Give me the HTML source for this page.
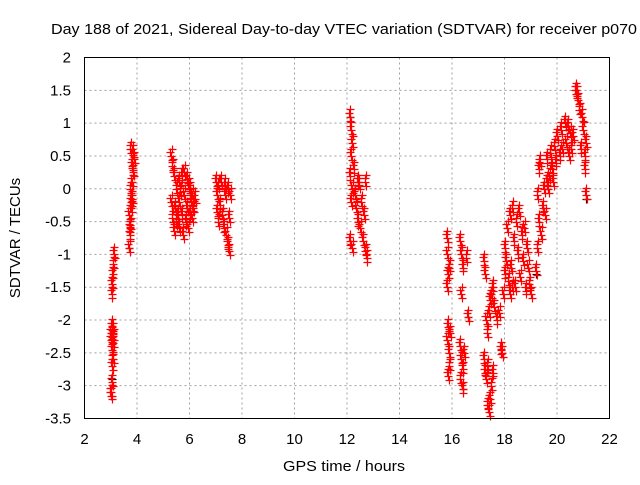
<!DOCTYPE html>
<html><head><meta charset="utf-8"><style>
body{margin:0;background:#fff}
svg text{font-family:"Liberation Sans",sans-serif;font-size:15px;fill:#000}
</style></head><body>
<svg id="chart" width="640" height="480">
<text x="344" y="34" text-anchor="middle" textLength="586" lengthAdjust="spacingAndGlyphs" style="font-size:14.5px">Day 188 of 2021, Sidereal Day-to-day VTEC variation (SDTVAR) for receiver p070</text>
<text x="344" y="471" text-anchor="middle" textLength="122" lengthAdjust="spacingAndGlyphs">GPS time / hours</text>
<text transform="translate(20,238) rotate(-90)" text-anchor="middle">SDTVAR / TECUs</text>
<g id="grid"></g><g id="ticks"></g><g id="marks"></g>
<rect x="84.5" y="57.5" width="525" height="361" fill="none" stroke="#000"/>
</svg>
<script>
const xTicks=[2,4,6,8,10,12,14,16,18,20,22];
const yTicks=[2,1.5,1,0.5,0,-0.5,-1,-1.5,-2,-2.5,-3,-3.5];
const redT=[3.0,3.02,3.05,3.05,3.08,3.05,3.0,3.02,3.06,3.1,3.04,3.08,3.03,3.05,3.07,3.1,3.12,
3.7,3.72,3.75,3.7,3.78,3.8,3.75,3.82,3.85,3.8,3.88,3.75,3.85,3.78,3.72,
5.3,5.35,5.4,5.3,5.35,5.4,5.5,5.5,5.45,5.6,5.6,5.6,5.7,5.7,5.75,5.8,5.8,5.85,5.9,5.9,5.95,6.0,6.0,6.05,6.1,6.1,6.15,6.2,5.55,5.65,5.95,
7.0,7.05,7.1,7.05,7.1,7.15,7.2,7.25,7.3,7.35,7.4,7.45,7.5,7.5,7.45,7.55,7.35,
12.1,12.15,12.2,12.15,12.1,12.2,12.15,12.1,12.2,12.3,12.35,12.4,12.45,12.5,12.55,12.6,12.65,12.7,12.7,12.75,12.25,12.4,
15.8,15.82,15.85,15.8,15.85,15.82,15.88,15.9,15.85,15.9,15.92,
16.3,16.35,16.4,16.35,16.3,16.35,16.4,16.32,16.4,16.45,16.6,16.55,
17.2,17.25,17.2,17.25,17.3,17.35,17.4,17.45,17.5,17.55,17.35,17.3,17.35,17.4,17.45,17.5,17.55,17.6,
17.7,17.8,17.85,17.9,17.95,18.0,
18.0,18.05,18.1,18.15,18.2,18.25,18.3,18.35,18.4,18.45,18.5,18.55,18.6,18.65,18.7,18.75,18.8,18.85,18.9,18.95,19.0,18.2,18.3,
19.2,19.25,19.3,19.25,19.3,19.35,19.4,19.45,19.5,19.55,19.6,
19.6,19.7,19.75,19.8,19.9,19.95,20.0,20.1,20.15,20.2,20.3,20.35,20.4,20.45,20.5,20.55,20.6,20.7,20.75,20.8,20.85,20.9,20.95,21.0,21.05,21.1,21.1,21.05,19.65,19.85];
const redV=[-3.15,-3.1,-2.95,-2.7,-2.6,-2.45,-2.3,-2.2,-2.15,-2.25,-2.1,-2.35,-1.6,-1.45,-1.3,-1.15,-1.0,
-0.9,-0.7,-0.55,-0.4,-0.3,-0.15,0.0,0.1,0.25,0.35,0.45,0.6,0.55,-0.2,-0.6,
0.5,0.35,0.2,-0.2,-0.45,-0.65,-0.5,0.0,-0.3,-0.6,-0.2,0.1,0.2,-0.4,-0.7,0.25,-0.1,-0.5,0.15,-0.3,-0.6,0.0,-0.4,-0.2,-0.45,-0.1,-0.3,-0.15,-0.4,-0.05,0.05,
0.1,-0.1,0.05,-0.35,-0.5,-0.25,0.1,-0.4,-0.6,-0.1,-0.7,-0.85,-0.95,-0.45,0.0,-0.1,0.05,
1.1,0.9,0.7,0.5,0.2,0.0,-0.2,-0.8,-0.9,-0.1,-0.3,-0.5,0.05,-0.6,-0.2,-0.8,-0.4,0.1,-0.95,-1.05,0.3,0.1,
-0.75,-1.0,-1.3,-1.5,-2.1,-2.3,-2.5,-2.7,-2.85,-1.2,-2.2,
-0.8,-1.0,-1.2,-1.6,-2.4,-2.6,-2.75,-2.9,-3.05,-2.5,-1.95,-1.05,
-1.1,-1.3,-2.6,-2.8,-2.9,-3.3,-3.4,-3.2,-3.0,-2.8,-2.7,-2.0,-2.2,-1.9,-1.7,-1.6,-1.5,-1.8,
-2.0,-1.9,-2.45,-2.5,-1.6,-1.3,
-0.9,-1.1,-0.6,-1.4,-0.4,-1.2,-0.3,-0.8,-1.5,-0.5,-1.0,-0.35,-1.35,-0.7,-1.1,-0.6,-1.55,-0.9,-1.2,-1.45,-1.6,-1.6,-1.5,
-1.25,-0.9,-0.5,-0.1,0.3,0.4,-0.7,-0.3,0.0,-0.4,0.1,
0.45,0.2,0.55,0.3,0.65,0.4,0.8,0.5,0.9,0.6,1.0,0.7,0.95,0.5,0.85,0.6,0.8,1.5,1.45,1.35,1.2,0.6,1.1,0.9,0.5,0.7,-0.1,0.3,0.0,0.1];
const blackT=[3.05,3.7,12.1,16.4,16.6,19.2,21.1];
const blackV=[-2.9,-0.9,1.1,-3.05,-1.95,-1.3,-0.15];
const X0=84.5,X1=609.5,Y0=57.5,Y1=418.5;
const sx=t=>X0+(t-2)/(22-2)*(X1-X0);
const sy=v=>Y0+(2-v)/(2+3.5)*(Y1-Y0);
const NS='http://www.w3.org/2000/svg';
const grid=document.getElementById('grid'),ticks=document.getElementById('ticks'),marks=document.getElementById('marks');
function mk(tag,attrs,parent){const e=document.createElementNS(NS,tag);for(const k in attrs)e.setAttribute(k,attrs[k]);parent.appendChild(e);return e;}
xTicks.forEach(t=>{
 const x=sx(t);
 if(t>2&&t<22){const g=mk('line',{x1:x,x2:x,y1:Y0,y2:Y1,stroke:'#a0a0a0','stroke-dasharray':'2,3'},grid);
 
 }
 const l=mk('text',{x:x,y:444,'text-anchor':'middle'},ticks);l.textContent=t;
 
 
});
yTicks.forEach(v=>{
 const y=sy(v);
 if(v<2&&v>-3.5){const g=mk('line',{x1:X0,x2:X1,y1:y,y2:y,stroke:'#a0a0a0','stroke-dasharray':'2,3'},grid);
 
 }
 const l=mk('text',{x:71,y:y+5,'text-anchor':'end'},ticks);l.textContent=v;
 
 
});
function plus(t,v,c){
 const x=Math.round(sx(t))+0.5,y=Math.round(sy(v))+0.5;
 const p=mk('path',{d:`M${x-4} ${y}H${x+4}M${x} ${y-4}V${y+4}`,stroke:c,'stroke-width':1.2,fill:'none'},marks);
 
 
}
blackT.forEach((t,i)=>plus(t,blackV[i],'#000'));
redT.forEach((t,i)=>{
 plus(t,redV[i],'#f00');
 plus(t+0.03,redV[i]-0.06,'#f00');
 plus(t-0.03,redV[i]+0.06,'#f00');
 plus(t+0.015,redV[i]+0.11,'#f00');
});
</script>
</body></html>
